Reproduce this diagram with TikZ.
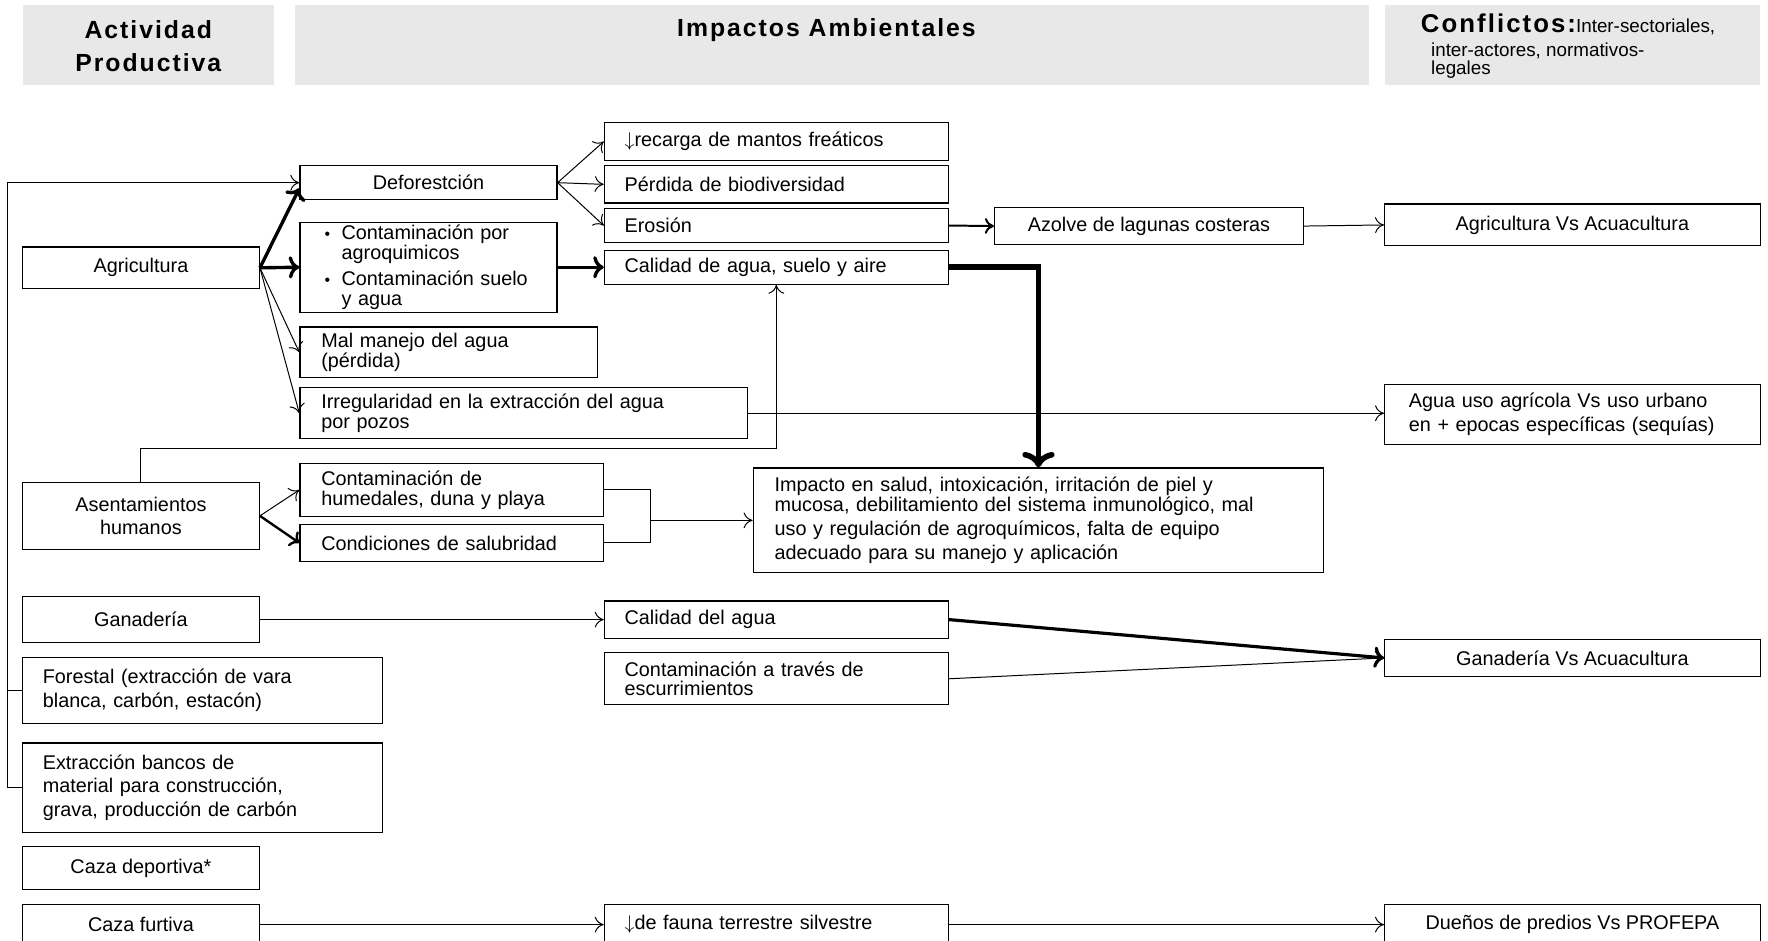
\documentclass[tikz,border=0pt]{standalone}
\usepackage{fontspec}
\setmainfont{Liberation Sans}
\newfontfamily\hdrfont[LetterSpace=8]{Liberation Sans}
\usetikzlibrary{positioning,calc,arrows.meta}

\begin{document}
\begin{tikzpicture}[x=0.2mm,y=-0.2mm,
    box/.style={draw, line width=0.6pt, inner xsep=3.6mm, inner ysep=0.5mm, font=\fontsize{10}{12}\selectfont},
    cbox/.style={box, align=center},
    lbox/.style={box, align=left},
    hdr/.style={fill=hdrgray, inner sep=0pt},
    hdrtxt/.style={font=\hdrfont\fontsize{12.5}{17}\selectfont\bfseries, align=center},
    flow/.style={-{To[length=1.6mm,width=2.8mm]}, line width=0.5pt},
    fat/.style={->, line width=1.7pt}]
    \colorlet{hdrgray}{black!9}

    \useasboundingbox (0,0) rectangle (1568,834);

    %% headers
    \node[hdr, minimum width=44.6mm, minimum height=14.2mm] (h1) at (131.5,39.5) {};
    \node[hdr, minimum width=190.4mm, minimum height=14.2mm] (h2) at (738,39.5) {};
    \node[hdr, minimum width=66.6mm, minimum height=14.2mm] (h3) at (1394.5,39.5) {};
    \node[hdrtxt] (h1t) at (131.5,41) {Actividad\\Productiva};
    \node[hdrtxt] (h2t) at (733,27) {Impactos Ambientales};
    \node[anchor=west, align=left, font=\fontsize{9.5}{10}\selectfont] (h3t) at (1254,41)
        {{\hdrfont\fontsize{13}{15}\selectfont\bfseries Conflictos:}Inter-sectoriales,\\[2pt]
         \hspace*{1.8mm}inter-actores, normativos-\\[-1pt]
         \hspace*{1.8mm}legales};

    %% actividades
    \node[cbox, minimum width=42mm, minimum height=7.4mm] (agri) at (125,237.5) {Agricultura};
    \node[cbox, minimum width=42mm, minimum height=11.8mm] (asen) at (125,457.5) {Asentamientos\\humanos};
    \node[cbox, minimum width=42mm, minimum height=8.2mm] (gana) at (125,549.5) {Ganadería};
    \node[lbox, text width=56.6mm, minimum height=11.8mm] (fore) at (179.5,612.5) {Forestal (extracción de vara\\blanca, carbón, estacón)};
    \node[lbox, text width=56.6mm, minimum height=15.8mm] (extr) at (179.5,698.5) {Extracción bancos de\\material para construcción,\\grava, producción de carbón};
    \node[cbox, minimum width=42mm, minimum height=7.6mm] (cazd) at (125,770) {Caza deportiva*};
    \node[cbox, minimum width=42mm, minimum height=7.2mm] (cazf) at (125,820) {Caza furtiva};

    %% impactos
    \node[cbox, minimum width=45.6mm, minimum height=6mm] (defo) at (380,162) {Deforestción};
    \node[lbox, text width=36.8mm, inner xsep=4.4mm, minimum height=15.6mm] (conta) at (380,237)
        {\makebox[3mm][l]{\footnotesize\textbullet}Contaminación por\\[-2pt]
         \hspace*{3mm}agroquimicos\\[1pt]
         \makebox[3mm][l]{\footnotesize\textbullet}Contaminación suelo\\[-2pt]
         \hspace*{3mm}y agua};
    \node[lbox, text width=45.2mm, inner xsep=3.8mm, minimum height=9mm] (malm) at (398,312.5) {Mal manejo del agua\\[-2pt](pérdida)};
    \node[lbox, text width=71.8mm, inner xsep=3.8mm, minimum height=9mm] (irre) at (464.5,366.5) {Irregularidad en la extracción del agua\\[-2pt]por pozos};
    \node[lbox, text width=53.8mm, minimum height=6.6mm] (recar) at (688.5,125.5) {$\downarrow$recarga de mantos freáticos};
    \node[lbox, text width=53.8mm, minimum height=6.6mm] (perd) at (688.5,163.5) {Pérdida de biodiversidad};
    \node[lbox, text width=53.8mm, minimum height=6mm] (eros) at (688.5,200) {Erosión};
    \node[lbox, text width=53.8mm, minimum height=6mm] (cali) at (688.5,237) {Calidad de agua, suelo y aire};
    \node[cbox, minimum width=54.8mm, minimum height=6.6mm] (azol) at (1019,200.5) {Azolve de lagunas costeras};
    \node[lbox, text width=46.2mm, inner xsep=3.8mm, minimum height=9.4mm] (humd) at (400.5,434.5) {Contaminación de\\[-2pt]humedales, duna y playa};
    \node[lbox, text width=46.2mm, inner xsep=3.8mm, minimum height=6.6mm] (salu) at (400.5,481.5) {Condiciones de salubridad};
    \node[lbox, text width=93.6mm, inner xsep=3.8mm, minimum height=18.6mm] (impa) at (921,461.5)
        {Impacto en salud, intoxicación, irritación de piel y\\[-2pt]
         mucosa, debilitamiento del sistema inmunológico, mal\\
         uso y regulación de agroquímicos, falta de equipo\\
         adecuado para su manejo y aplicación};
    \node[lbox, text width=53.8mm, minimum height=6.6mm] (calag) at (688.5,549.5) {Calidad del agua};
    \node[lbox, text width=53.8mm, minimum height=9.2mm] (esc) at (688.5,602) {Contaminación a través de\\[-2pt]escurrimientos};
    \node[lbox, text width=53.8mm, minimum height=7.2mm] (faun) at (688.5,820) {$\downarrow$de fauna terrestre silvestre};

    %% conflictos
    \node[cbox, minimum width=66.6mm, minimum height=7.4mm] (agac) at (1394.5,199.5) {Agricultura Vs Acuacultura};
    \node[lbox, text width=58mm, inner xsep=4.3mm, minimum height=10.6mm] (agua) at (1394.5,367.5) {Agua uso agrícola Vs uso urbano\\en + epocas específicas (sequías)};
    \node[cbox, minimum width=66.6mm, minimum height=6.6mm] (ganac) at (1394.5,583.5) {Ganadería Vs Acuacultura};
    \node[cbox, minimum width=66.6mm, minimum height=7.2mm] (duen) at (1394.5,820) {Dueños de predios Vs PROFEPA};

    %% flechas
    \draw[fat] (agri.east) -- ([yshift=-1mm]defo.west);
    \draw[fat] (agri.east) -- (conta.west);
    \draw[flow] (agri.east) -- (malm.west);
    \draw[flow] (agri.east) -- (irre.west);
    \draw[flow] (extr.west) -- ++(-13,0) |- (defo.west);
    \draw[line width=0.5pt] (fore.west) -- ++(-13,0);
    \foreach \t in {recar,perd,eros} \draw[flow] (defo.east) -- (\t.west);
    \draw[fat] (conta.east) -- (cali.west);
    \draw[flow, line width=1pt] (eros.east) -- (azol.west);
    \draw[flow] (azol.east) -- (agac.west);
    \draw[->, line width=2.8pt] (cali.east) -| (impa.north);
    \draw[flow] (irre.east) -- (irre.east -| agua.west);
    \draw[flow] (asen.north) -- ++(0,-30) -| (cali.south);
    \draw[flow] (asen.east) -- (humd.west);
    \draw[->, line width=1.2pt] (asen.east) -- (salu.west);
    \coordinate (brm) at (577,461.5);
    \draw[line width=0.5pt] (humd.east) -| (brm) |- (salu.east);
    \draw[flow] (brm) -- (impa.west);
    \draw[flow] (gana.east) -- (calag.west);
    \draw[->, line width=1.6pt] (calag.east) -- (ganac.west);
    \draw[flow] (esc.east) -- (ganac.west);
    \draw[flow] (cazf.east) -- (faun.west);
    \draw[flow] (faun.east) -- (duen.west);

\end{tikzpicture}
\end{document}
